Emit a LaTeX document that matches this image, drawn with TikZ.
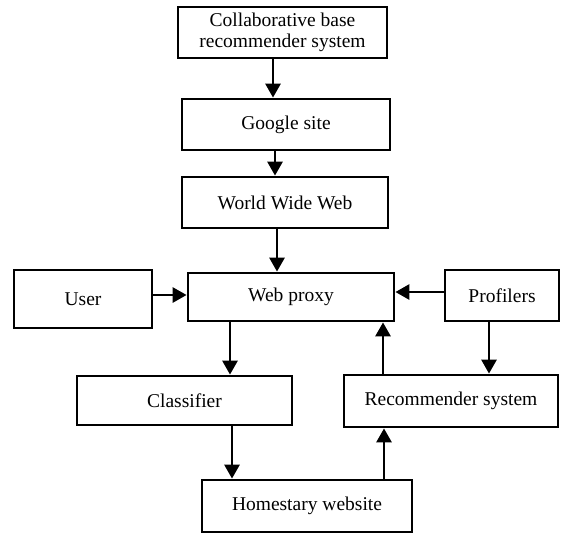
\documentclass[tikz,border=0pt]{standalone}
\usepackage{fontspec}
\setmainfont{Liberation Serif}
\usepackage{tikz}
\usetikzlibrary{arrows.meta,positioning}

\begin{document}
\begin{tikzpicture}[
  x=1pt, y=-1pt,
  box/.style={draw, line width=2.8pt, minimum height=51pt, inner sep=2pt,
              font=\fontsize{19.5}{21}\selectfont, align=center},
  arr/.style={-{Triangle[length=14pt,width=15pt]}, line width=2.8pt}
]
\useasboundingbox (0,0) rectangle (561,533);

\node[box, minimum width=209pt] (collab) at (282.5,32.5)
  {Collaborative base\\recommender system};
\node[box, minimum width=208pt] (google) at (286,124.5) {Google site};
\node[box, minimum width=206pt] (www) at (285,202.5) {World Wide Web};

\node[box, minimum width=138pt, minimum height=58pt] (user) at (83,299) {User};
\node[box, minimum width=206pt, minimum height=48pt] (proxy) at (291,297) {Web proxy};
\node[box, minimum width=114pt] (prof) at (502,295.5) {Profilers};

\node[box, minimum width=215pt, minimum height=49pt] (classif) at (184.5,400.5) {Classifier};
\node[box, minimum width=214pt, minimum height=52pt] (recsys) at (451,401) {Recommender system};

\node[box, minimum width=210pt, minimum height=52pt] (home) at (307,506) {Homestary website};

\draw[arr] ([xshift=-9.5pt]collab.south) -- ([xshift=-13pt]google.north);
\draw[arr] ([xshift=-11pt]google.south) -- ([xshift=-10pt]www.north);
\draw[arr] ([xshift=-8pt]www.south) -- ([xshift=-14pt]proxy.north);
\draw[arr] ([yshift=4pt]user.east) -- ([yshift=2pt]proxy.west);
\draw[arr] ([yshift=3.5pt]prof.west) -- ([yshift=5pt]proxy.east);
\draw[arr] ([xshift=-61pt]proxy.south) -- ([xshift=45.5pt]classif.north);
\draw[arr] ([xshift=-13pt]prof.south) -- ([xshift=38pt]recsys.north);
\draw[arr] ([xshift=-68pt]recsys.north) -- ([xshift=92pt]proxy.south);
\draw[arr] ([xshift=47.5pt]classif.south) -- ([xshift=-75pt]home.north);
\draw[arr] ([xshift=77pt]home.north) -- ([xshift=-67pt]recsys.south);

\end{tikzpicture}
\end{document}
